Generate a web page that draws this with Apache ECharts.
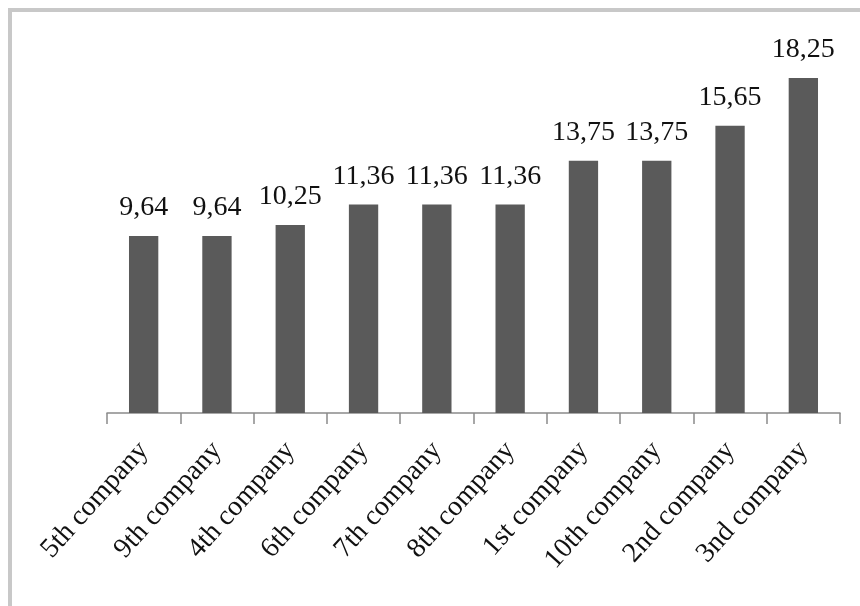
<!DOCTYPE html>
<html>
<head>
<meta charset="utf-8">
<script src="https://cdn.jsdelivr.net/npm/echarts@6/dist/echarts.min.js"></script>
<style>
  html, body { margin: 0; padding: 0; background: #fff; }
  #chart { width: 860px; height: 606px; }
</style>
</head>
<body>
<div id="chart"></div>
<script>
const categories = [
	'5th company', '9th company', '4th company', '6th company', '7th company',
	'8th company', '1st company', '10th company', '2nd company', '3nd company'
];
const values = [ 9.64, 9.64, 10.25, 11.36, 11.36, 11.36, 13.75, 13.75, 15.65, 18.25 ];

// values are shown with a decimal comma
const commaFormat = ( v ) => v.toFixed( 2 ).replace( '.', ',' );

const chart = echarts.init( document.getElementById( 'chart' ), null, { renderer: 'canvas' } );
const serif = '"Liberation Serif", "DejaVu Serif", serif';

chart.setOption( {
	animation: false,
	backgroundColor: '#fff',
	graphic: [ {
		type: 'rect',
		shape: { x: 10, y: 10, width: 900, height: 700 },
		style: { fill: 'none', stroke: '#c8c8c8', lineWidth: 4 },
		silent: true
	} ],
	grid: { left: 107, right: 20, top: 46, bottom: 193 },
	xAxis: {
		type: 'category',
		data: categories,
		axisLine: { lineStyle: { color: '#8a8a8a', width: 1.5 } },
		axisTick: { show: true, length: 11, lineStyle: { color: '#8a8a8a', width: 1.5 } },
		axisLabel: {
			rotate: 48,
			margin: 33,
			interval: 0,
			fontFamily: serif,
			fontSize: 28,
			color: '#111'
		}
	},
	yAxis: {
		type: 'value',
		min: 0,
		max: 20,
		show: false
	},
	series: [ {
		type: 'bar',
		data: values,
		barWidth: '40%',
		itemStyle: { color: '#5a5a5a' },
		label: {
			show: true,
			position: 'top',
			distance: 14,
			fontFamily: serif,
			fontSize: 28,
			color: '#111',
			formatter: ( p ) => commaFormat( p.value )
		}
	} ]
} );
</script>
</body>
</html>
